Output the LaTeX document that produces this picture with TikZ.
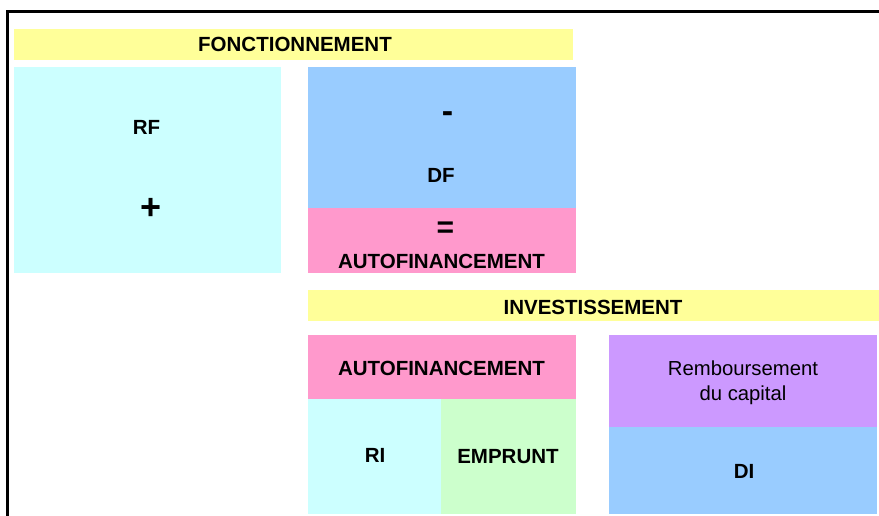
\documentclass[tikz,border=0pt]{standalone}
\usepackage{fontspec}
\setmainfont{Liberation Sans}
\definecolor{cyellow}{HTML}{FFFF99}
\definecolor{ccyan}{HTML}{CCFFFF}
\definecolor{cblue}{HTML}{99CCFF}
\definecolor{cpink}{HTML}{FF99CC}
\definecolor{cgreen}{HTML}{CCFFCC}
\definecolor{cpurple}{HTML}{CC99FF}
\begin{document}
\begin{tikzpicture}[x=1pt,y=-1pt,
  panel/.style={rectangle,draw=none,inner sep=0pt,outer sep=0pt,anchor=north west},
  lbl/.style={inner sep=0pt,anchor=base,font=\fontsize{20.5}{24}\selectfont\bfseries},
  sym/.style={inner sep=0pt,anchor=base,font=\fontsize{#1}{#1}\selectfont\bfseries},
  rlbl/.style={inner sep=0pt,anchor=base,font=\fontsize{20.3}{24}\selectfont}]
\useasboundingbox (0,0) rectangle (879,516);
% frame
\coordinate (ftl) at (7.5,11.5);
\coordinate (ftr) at (879,11.5);
\coordinate (fbl) at (7.5,516);
\draw[line width=3pt] (fbl) -- (ftl) -- (ftr);
% panels
\node[panel,fill=cyellow,minimum width=559pt,minimum height=31pt] (fonc) at (14,29) {};
\node[panel,fill=ccyan,minimum width=267pt,minimum height=206pt] (rfbox) at (14,67) {};
\node[panel,fill=cblue,minimum width=268pt,minimum height=141pt] (dfbox) at (308,67) {};
\node[panel,fill=cpink,minimum width=268pt,minimum height=65pt] (afbox) at (308,208) {};
\node[panel,fill=cyellow,minimum width=571pt,minimum height=31pt] (inv) at (308,290) {};
\node[panel,fill=cpink,minimum width=268pt,minimum height=64pt] (af2box) at (308,335) {};
\node[panel,fill=ccyan,minimum width=133pt,minimum height=115pt] (ribox) at (308,399) {};
\node[panel,fill=cgreen,minimum width=135pt,minimum height=115pt] (embox) at (441,399) {};
\node[panel,fill=cpurple,minimum width=268pt,minimum height=92pt] (rbbox) at (609,335) {};
\node[panel,fill=cblue,minimum width=268pt,minimum height=87pt] (dibox) at (609,427) {};
% texts
\node[lbl] (tfonc) at (295,52) {FONCTIONNEMENT};
\node[lbl] (trf) at (146.5,135) {RF};
\node[sym=36] (tplus) at (151.5,219.5) {+};
\node[sym=34] (tminus) at (447.5,122.5) {-};
\node[sym=30] (teq) at (445.5,237) {=};
\node[lbl] (tdf) at (441,183) {DF};
\node[lbl] (taf) at (441.5,268) {AUTOFINANCEMENT};
\node[lbl] (tinv) at (593,314) {INVESTISSEMENT};
\node[lbl] (taf2) at (441.5,375.5) {AUTOFINANCEMENT};
\node[lbl] (tri) at (375,462.5) {RI};
\node[lbl] (tem) at (508,463) {EMPRUNT};
\node[rlbl] (trb1) at (743,375) {Remboursement};
\node[rlbl] (trb2) at (743,400) {du capital};
\node[lbl] (tdi) at (744,478) {DI};
\end{tikzpicture}
\end{document}
